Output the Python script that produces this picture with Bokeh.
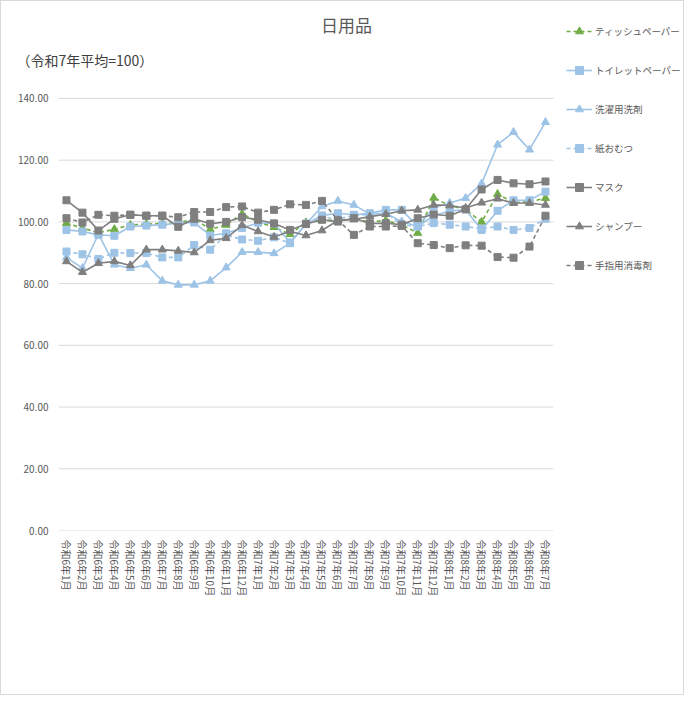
from bokeh.plotting import figure
from bokeh.models import (Range1d, Legend, LegendItem, Title,
                          FixedTicker, NumeralTickFormatter)
from bokeh.core.properties import value
from bokeh.embed import file_html
from bokeh.resources import INLINE

months = [
    "令和6年1月", "令和6年2月", "令和6年3月", "令和6年4月", "令和6年5月", "令和6年6月",
    "令和6年7月", "令和6年8月", "令和6年9月", "令和6年10月", "令和6年11月", "令和6年12月",
    "令和7年1月", "令和7年2月", "令和7年3月", "令和7年4月", "令和7年5月", "令和7年6月",
    "令和7年7月", "令和7年8月", "令和7年9月", "令和7年10月", "令和7年11月", "令和7年12月",
    "令和8年1月", "令和8年2月", "令和8年3月", "令和8年4月", "令和8年5月", "令和8年6月",
    "令和8年7月",
]
y_ticks = [0, 20, 40, 60, 80, 100, 120, 140]

tissue = [99.6, 98.0, 96.5, 97.6, 99.0, 99.3, 99.5, 99.6, 101.0, 97.6, 99.0, 102.6,
          100.0, 98.3, 96.0, 99.8, 100.5, 100.5, 101.0, 100.0, 100.5, 99.0, 96.4, 107.8,
          105.3, 104.0, 100.0, 109.0, 106.3, 106.5, 107.7]
toilet = [97.4, 96.9, 95.8, 95.5, 98.5, 98.8, 99.1, 99.6, 99.8, 95.6, 96.3, 98.0,
          99.7, 99.5, 93.3, 99.3, 102.1, 102.8, 102.3, 102.8, 103.9, 103.9, 98.5, 102.0,
          103.5, 104.0, 97.4, 103.6, 107.0, 107.0, 109.8]
detergent = [88.5, 85.0, 96.0, 86.1, 85.0, 86.1, 80.9, 79.6, 79.6, 80.9, 85.2, 90.2,
             90.2, 89.8, 93.1, 99.3, 105.0, 106.8, 105.5, 102.5, 102.8, 100.1, 98.5, 104.6,
             106.1, 107.7, 112.4, 125.0, 129.1, 123.4, 132.3]
diaper = [90.4, 89.5, 88.0, 90.0, 89.9, 89.9, 88.5, 88.5, 92.5, 91.0, 95.8, 94.3,
          93.9, 95.0, 93.1, 99.5, 101.5, 101.0, 102.0, 102.5, 103.0, 99.1, 98.5, 99.6,
          99.1, 98.5, 97.8, 98.5, 97.4, 98.0, 101.0]
mask = [107.0, 103.0, 97.2, 101.0, 102.3, 102.0, 102.0, 98.4, 101.0, 99.4, 100.0, 101.5,
        100.7, 99.5, 97.4, 99.3, 100.7, 100.1, 101.2, 99.5, 99.6, 99.1, 101.2, 102.4,
        102.0, 104.1, 110.5, 113.6, 112.5, 112.2, 113.1]
shampoo = [87.2, 83.7, 86.6, 87.2, 85.9, 91.0, 91.0, 90.6, 90.1, 94.0, 94.7, 98.9,
           96.9, 95.1, 97.0, 95.6, 97.2, 100.5, 100.8, 101.7, 102.5, 103.6, 103.9, 105.5,
           105.3, 104.5, 106.2, 107.5, 106.1, 106.1, 105.5]
sanitizer = [101.2, 99.8, 102.3, 102.0, 102.3, 102.0, 102.0, 101.5, 103.2, 103.2, 104.8, 105.0,
             103.0, 103.9, 105.7, 105.5, 106.8, 100.5, 95.8, 98.5, 98.5, 98.7, 93.1, 92.5,
             91.5, 92.4, 92.3, 88.6, 88.4, 92.0, 102.0]

series = [
    ("ティッシュペーパー", tissue, "#70ad47", "4 3", "triangle"),
    ("トイレットペーパー", toilet, "#9dc3e6", "solid", "square"),
    ("洗濯用洗剤", detergent, "#9dc3e6", "solid", "triangle"),
    ("紙おむつ", diaper, "#9dc3e6", "4 3", "square"),
    ("マスク", mask, "#7f7f7f", "solid", "square"),
    ("シャンプー", shampoo, "#7f7f7f", "solid", "triangle"),
    ("手指用消毒剤", sanitizer, "#7f7f7f", "4 3", "square"),
]

FONT = "Noto Sans CJK JP"
x_pos = list(range(len(months)))

# the frame spans the legend area too (legends get clipped to the frame),
# so the month axis gets extra room on the right and headroom on top
p = figure(width=684, height=695, x_range=Range1d(-0.5, 38.77), y_range=Range1d(0, 168.5),
           output_backend="svg", toolbar_location=None,
           min_border_left=57, min_border_right=0, min_border_top=9, min_border_bottom=166)
p.outline_line_color = None
p.styles = {"border": "1px solid #d9d9d9"}

# unit note: a title pulled down below its panel
p.title = Title(text="（令和7年平均=100）", align="left", offset=-42, standoff=-118,
                text_font=FONT, text_font_size="14px", text_font_style="normal",
                text_color="#404040")

p.text(x=[17.54], y=[164.0], text=["日用品"], text_font=value(FONT),
       text_font_size="17px", text_align="center", text_baseline="middle",
       text_color="#595959")

p.xgrid.grid_line_color = None
p.ygrid.grid_line_color = None
p.segment(x0=-0.5, x1=len(months) - 0.5, y0=y_ticks, y1=y_ticks,
          line_color="#d9d9d9", line_width=1)

p.xaxis.ticker = FixedTicker(ticks=x_pos)
p.xaxis.major_label_overrides = {i: m for i, m in zip(x_pos, months)}
p.yaxis.ticker = FixedTicker(ticks=y_ticks)
p.yaxis.formatter = NumeralTickFormatter(format="0.00")
for ax in (p.xaxis[0], p.yaxis[0]):
    ax.axis_line_color = None
    ax.major_tick_line_color = None
    ax.minor_tick_line_color = None
    ax.major_tick_out = 0
    ax.major_tick_in = 0
    ax.major_label_text_font = FONT
    ax.major_label_text_font_size = "10px"
    ax.major_label_text_color = "#595959"
p.yaxis.major_label_standoff = 10
p.xaxis.major_label_orientation = "vertical"
p.xaxis.major_label_standoff = 9

items = []
for name, vals, color, dash, marker in series:
    ln = p.line(x_pos, vals, line_color=color, line_width=1.6, line_dash=dash)
    mk = p.scatter(x_pos, vals, marker=marker, size=7 if marker == "square" else 8,
                   fill_color=color, line_color=color)
    items.append(LegendItem(label=name, renderers=[ln, mk]))

legend = Legend(items=items, location=(508, 255), orientation="vertical",
                glyph_width=26, glyph_height=20, label_height=20, spacing=19,
                label_standoff=3, padding=0, margin=0,
                border_line_color=None, background_fill_alpha=0,
                label_text_font=FONT, label_text_font_size="9.5px",
                label_text_color="#595959")
p.add_layout(legend, "center")

open("out.html", "w").write(file_html(p, INLINE))
